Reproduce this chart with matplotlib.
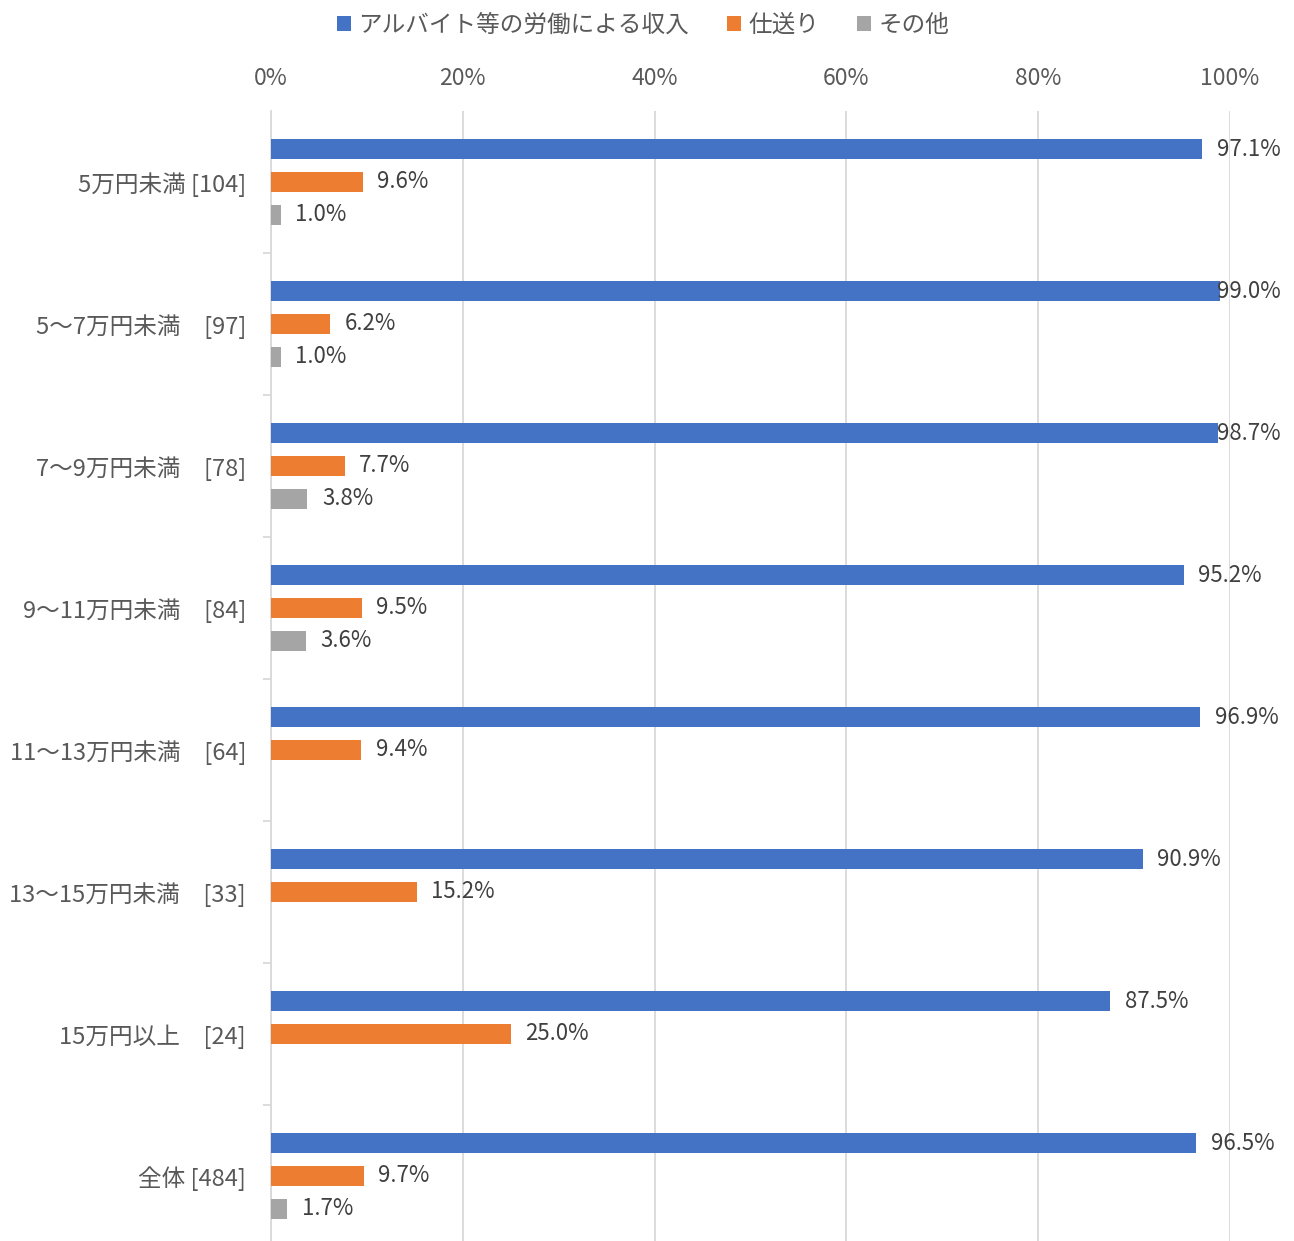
import numpy as np
import matplotlib.pyplot as plt
from matplotlib.ticker import FixedLocator, PercentFormatter

plt.switch_backend('agg')
plt.rcParams['font.family'] = ['Noto Sans CJK JP', 'DejaVu Sans']

categories = ['5万円未満 [104]', '5～7万円未満　[97]', '7～9万円未満　[78]',
              '9～11万円未満　[84]', '11～13万円未満　[64]', '13～15万円未満　[33]',
              '15万円以上　[24]', '全体 [484]']
series = ['アルバイト等の労働による収入', '仕送り', 'その他']
work = [97.1, 99.0, 98.7, 95.2, 96.9, 90.9, 87.5, 96.5]
allowance = [9.6, 6.2, 7.7, 9.5, 9.4, 15.2, 25.0, 9.7]
other = [1.0, 1.0, 3.8, 3.6, np.nan, np.nan, np.nan, 1.7]
colors = ['#4472C4', '#ED7D31', '#A5A5A5']

fig = plt.figure(figsize=(12.94, 12.41), dpi=100)
ax = fig.add_axes([271 / 1294, -6 / 1241, (1230 - 271) / 1294, (1247 - 111) / 1241])

y = np.arange(len(categories))
offsets = [-0.232, 0, 0.232]
txt_col = '#404040'
for vals, off, c, name in zip([work, allowance, other], offsets, colors, series):
    vals = np.array(vals)
    ax.barh(y + off, vals, height=0.145, color=c, label=name, zorder=3)
    for yi, v in zip(y, vals):
        if np.isnan(v):
            continue
        # labels near the right edge are pushed back inside the chart
        ax.text(min(v + 1.5, 98.6), yi + off, f'{v:.1f}%', va='center', ha='left',
                fontsize=16, color=txt_col, zorder=4)

ax.set_xlim(0, 100)
ax.set_ylim(7.5, -0.5)
ax.xaxis.tick_top()
ax.set_xticks(np.arange(0, 101, 20))
ax.xaxis.set_major_formatter(PercentFormatter(decimals=0))
ax.tick_params(axis='x', length=0, pad=15, labelsize=16.5, labelcolor='#595959')
ax.grid(axis='x', color='#D9D9D9', lw=1.3, zorder=0)

ax.set_yticks(y)
ax.set_yticklabels(categories)
ax.tick_params(axis='y', which='major', length=0, pad=18, labelsize=17, labelcolor='#595959')
ax.yaxis.set_minor_locator(FixedLocator(np.arange(0.5, 7.5, 1)))
ax.tick_params(axis='y', which='minor', length=6, color='#D9D9D9', width=1.3)

for s in ['top', 'right', 'bottom']:
    ax.spines[s].set_visible(False)
ax.spines['left'].set_color('#D9D9D9')
ax.spines['left'].set_linewidth(1.3)

fig.legend(loc='upper center', bbox_to_anchor=(0.497, 1.006), ncol=3, frameon=False,
           fontsize=17, handlelength=0.6, handleheight=0.6, handletextpad=0.3,
           columnspacing=1.6, labelcolor='#595959')

fig.savefig('out.png', dpi=100)
